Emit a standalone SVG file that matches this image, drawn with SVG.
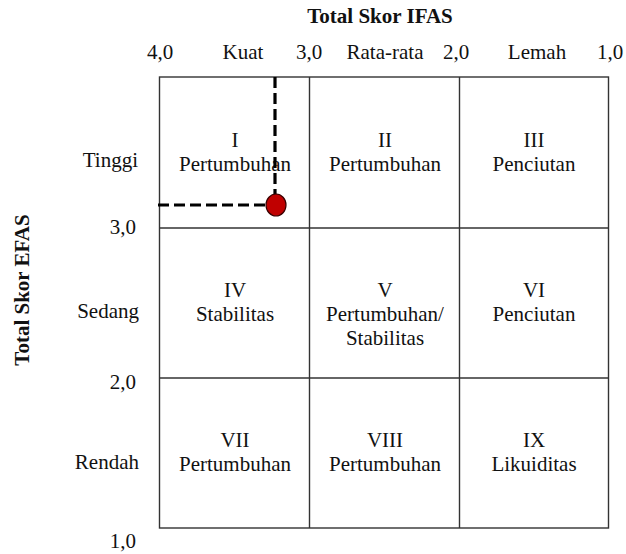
<svg xmlns="http://www.w3.org/2000/svg" width="626" height="554" viewBox="0 0 626 554">
<style>
text{font-family:'Liberation Serif','DejaVu Serif',serif;font-size:21px;fill:#111;}
.b{font-weight:bold;}
.c{text-anchor:middle;}
.r{text-anchor:end;}
.grid{fill:none;stroke:#333;stroke-width:1.4;}
.dash{fill:none;stroke:#000;stroke-width:3.2;stroke-dasharray:11,5;}
</style>
<rect width="626" height="554" fill="#fff"/>
<g id="axis-top" font-family="Liberation Serif, serif">
<text class="b c" x="380" y="23">Total Skor IFAS</text>
<text class="c" x="160" y="59">4,0</text>
<text class="c" x="243" y="59">Kuat</text>
<text class="c" x="309" y="59">3,0</text>
<text class="c" x="385" y="59">Rata-rata</text>
<text class="c" x="456" y="59">2,0</text>
<text class="c" x="537" y="59">Lemah</text>
<text class="c" x="610" y="59">1,0</text>
</g>
<g id="axis-left">
<text class="b c" transform="translate(29,290) rotate(-90)">Total Skor EFAS</text>
<text class="r" x="138" y="167">Tinggi</text>
<text class="r" x="136" y="234">3,0</text>
<text class="r" x="139" y="318">Sedang</text>
<text class="r" x="136" y="389">2,0</text>
<text class="r" x="139" y="469">Rendah</text>
<text class="r" x="136" y="548">1,0</text>
</g>
<g id="grid">
<rect class="grid" x="159.5" y="77" width="449" height="451"/>
<line class="grid" x1="309.5" y1="77" x2="309.5" y2="528"/>
<line class="grid" x1="459.5" y1="77" x2="459.5" y2="528"/>
<line class="grid" x1="159.5" y1="228" x2="608.5" y2="228"/>
<line class="grid" x1="159.5" y1="378" x2="608.5" y2="378"/>
</g>
<g id="cell-1"><text class="c" x="235" y="147">I</text><text class="c" x="235" y="171">Pertumbuhan</text></g>
<g id="cell-2"><text class="c" x="385" y="147">II</text><text class="c" x="385" y="171">Pertumbuhan</text></g>
<g id="cell-3"><text class="c" x="534" y="147">III</text><text class="c" x="534" y="171">Penciutan</text></g>
<g id="cell-4"><text class="c" x="235" y="297">IV</text><text class="c" x="235" y="321">Stabilitas</text></g>
<g id="cell-5"><text class="c" x="385" y="297">V</text><text class="c" x="385" y="321">Pertumbuhan/</text><text class="c" x="385" y="345">Stabilitas</text></g>
<g id="cell-6"><text class="c" x="534" y="297">VI</text><text class="c" x="534" y="321">Penciutan</text></g>
<g id="cell-7"><text class="c" x="235" y="447">VII</text><text class="c" x="235" y="471">Pertumbuhan</text></g>
<g id="cell-8"><text class="c" x="385" y="447">VIII</text><text class="c" x="385" y="471">Pertumbuhan</text></g>
<g id="cell-9"><text class="c" x="534" y="447">IX</text><text class="c" x="534" y="471">Likuiditas</text></g>
<g id="connectors">
<line class="dash" x1="275" y1="77" x2="275" y2="196"/>
<line class="dash" x1="158" y1="205" x2="267" y2="205"/>
</g>
<g id="point">
<ellipse cx="276" cy="205" rx="10" ry="11" fill="#c00000" stroke="#3a0000" stroke-width="1.2"/>
</g>
</svg>
